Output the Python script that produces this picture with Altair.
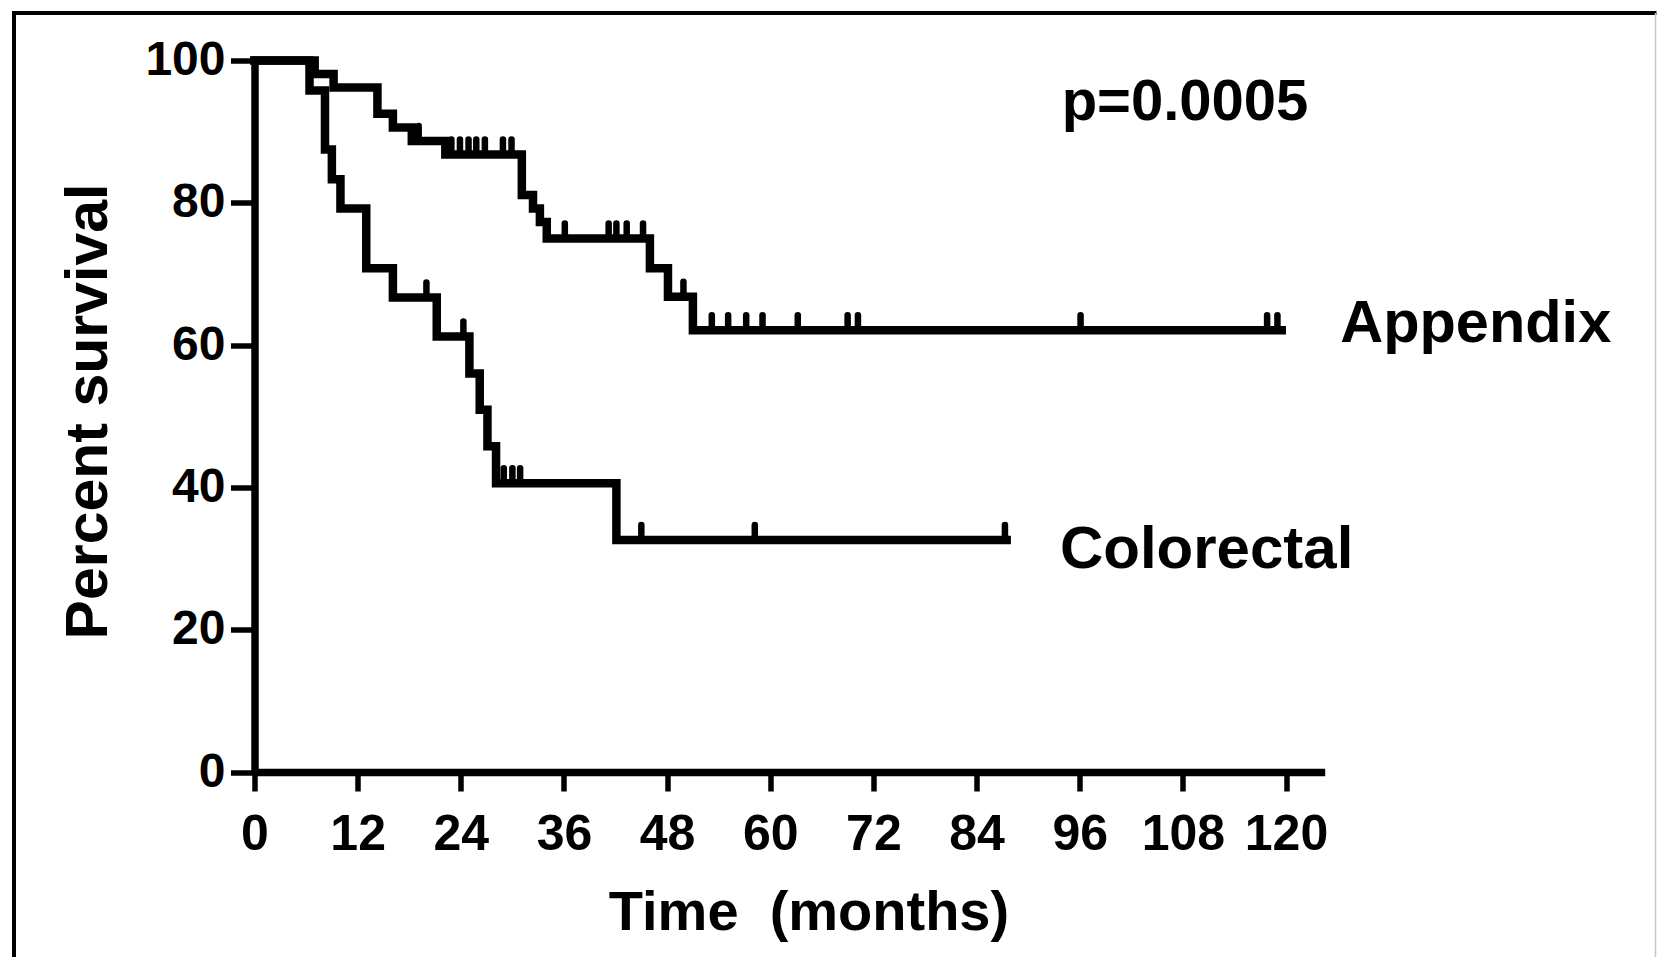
import altair as alt
import pandas as pd

# ---- data ----
app_t = [0, 7.0, 9.2, 14.3, 16.1, 18.3, 22.2, 31.1, 32.4, 33.2, 34.0, 46.0, 48.1, 51.0, 119.5]
app_s = [100, 98.1, 96.2, 92.5, 90.6, 88.7, 86.8, 81.1, 79.2, 77.3, 75.0, 70.8, 66.8, 62.1, 62.1]

col_t = [0, 6.4, 8.2, 9.0, 10.0, 13.0, 16.1, 21.2, 25.0, 26.2, 27.1, 28.1, 42.1, 87.5]
col_s = [100, 95.8, 87.5, 83.3, 79.2, 70.8, 66.7, 61.2, 56.0, 50.9, 45.8, 40.6, 32.6, 32.6]

app_cens_t = [19.1, 22.9, 23.9, 24.9, 25.8, 26.8, 28.9, 29.9, 36.1, 41.2, 42.1, 43.3, 45.2,
              49.9, 53.2, 55.1, 57.2, 59.1, 63.2, 69.0, 70.2, 96.1, 117.8, 119.0]
app_cens_s = [88.7, 86.8, 86.8, 86.8, 86.8, 86.8, 86.8, 86.8, 75.0, 75.0, 75.0, 75.0, 75.0,
              66.8, 62.1, 62.1, 62.1, 62.1, 62.1, 62.1, 62.1, 62.1, 62.1, 62.1]

col_cens_t = [20.0, 24.3, 29.0, 30.0, 30.9, 45.0, 58.2, 87.3]
col_cens_s = [66.7, 61.2, 40.6, 40.6, 40.6, 32.6, 32.6, 32.6]

x_ticks = [0, 12, 24, 36, 48, 60, 72, 84, 96, 108, 120]
y_ticks = [0, 20, 40, 60, 80, 100]

labels = ["p=0.0005", "Appendix", "Colorectal"]
label_t = [93.9, 126.3, 93.7]
label_s = [91.6, 60.4, 28.7]
label_size = [58, 59.5, 60]

FONT = "Liberation Sans"

curves = pd.DataFrame({
    "t": app_t + col_t,
    "s": app_s + col_s,
    "g": ["Appendix"] * len(app_t) + ["Colorectal"] * len(col_t),
})
cens = pd.DataFrame({
    "t": app_cens_t + col_cens_t,
    "s": app_cens_s + col_cens_s,
})
texts = pd.DataFrame({"label": labels, "t": label_t, "s": label_s, "size": label_size})

xscale = alt.Scale(domain=[0, 124.5], nice=False, zero=False)
yscale = alt.Scale(domain=[0, 100], nice=False)

xaxis = alt.Axis(
    values=x_ticks, title="Time\u00a0 (months)", grid=False,
    domainWidth=7.5, domainColor="black", tickWidth=5.5, tickColor="black", tickSize=19,
    labelFont=FONT, labelFontWeight="bold", labelFontSize=50, labelColor="black",
    labelBaseline="alphabetic", labelPadding=58.5, labelFlush=False, labelOverlap=False,
    titleFont=FONT, titleFontWeight="bold", titleFontSize=56, titleColor="black",
    titleX=554, titleY=157, titleBaseline="alphabetic", titleAlign="center",
)
yaxis = alt.Axis(
    values=y_ticks, title="Percent survival", grid=False,
    domainWidth=7.5, domainColor="black", tickWidth=5.5, tickColor="black", tickSize=24,
    labelFont=FONT, labelFontWeight="bold", labelFontSize=48, labelColor="black",
    labelPadding=5.5, labelFlush=False, labelOverlap=False,
    titleFont=FONT, titleFontWeight="bold", titleFontSize=59, titleColor="black",
    titleX=-148.5, titleY=350.5, titleAngle=270, titleBaseline="alphabetic", titleAlign="center",
)

lines = alt.Chart(curves).mark_line(
    interpolate="step-after", strokeWidth=8.5, color="black", strokeJoin="miter", strokeCap="square"
).encode(
    x=alt.X("t:Q", scale=xscale, axis=xaxis),
    y=alt.Y("s:Q", scale=yscale, axis=yaxis),
    detail="g:N",
)

ticks = alt.Chart(cens).mark_rule(
    color="black", strokeWidth=6.5, strokeCap="round", y2Offset=-15
).encode(
    x="t:Q", y="s:Q", y2="s:Q"
)

txt = alt.Chart(texts).mark_text(
    font=FONT, fontWeight="bold", color="black", align="left", baseline="alphabetic"
).encode(
    x="t:Q", y="s:Q", text="label:N", size=alt.Size("size:Q", scale=None, legend=None)
)

frame_df = pd.DataFrame({"k": ["left"]})
frame_left = alt.Chart(frame_df).mark_rule(color="black", strokeWidth=4).encode(
    x=alt.value(-240.5), y=alt.value(-47.5), y2=alt.value(900)
)
frame_top = alt.Chart(frame_df).mark_rule(color="black", strokeWidth=4).encode(
    x=alt.value(-242.5), x2=alt.value(1402), y=alt.value(-47.5)
)
frame_right = alt.Chart(frame_df).mark_rule(color="#c8c8c8", strokeWidth=1.5).encode(
    x=alt.value(1401), y=alt.value(-47.5), y2=alt.value(900)
)

chart = alt.layer(lines, ticks, txt, frame_left, frame_top, frame_right).properties(
    width=1070.2,
    height=711.5,
    autosize=alt.AutoSizeParams(type="none"),
    padding={"left": 246.5, "top": 52.5, "right": 332.3, "bottom": 185},
    background="white",
).configure_view(stroke=None)

chart.save("out.html", embed_options={"renderer": "svg", "actions": False})
